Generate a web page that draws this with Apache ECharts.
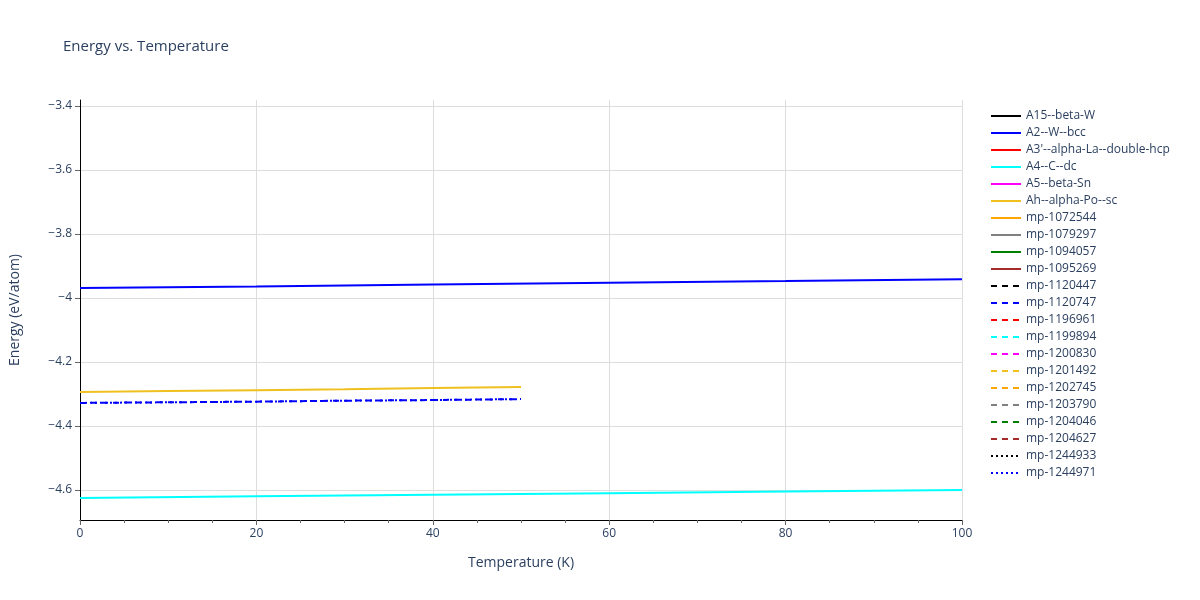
<!DOCTYPE html>
<html>
<head>
<meta charset="utf-8">
<script src="https://cdn.jsdelivr.net/npm/echarts@6/dist/echarts.min.js"></script>
<style>
  html, body { margin: 0; padding: 0; background: #fff; }
  #chart { width: 1200px; height: 600px; }
</style>
</head>
<body>
<div id="chart"></div>
<script>
// data
const temps100 = [0, 20, 40, 60, 80, 100];
const temps50 = [0, 10, 20, 30, 40, 50];
const a2Energy = [-3.969, -3.964, -3.958, -3.952, -3.947, -3.941];
const a4Energy = [-4.625, -4.620, -4.615, -4.610, -4.605, -4.600];
const ahEnergy = [-4.294, -4.291, -4.288, -4.285, -4.281, -4.278];
const mp1120747Energy = [-4.328, -4.326, -4.324, -4.321, -4.319, -4.316];
const yTicks = [-4.6, -4.4, -4.2, -4.0, -3.8, -3.6, -3.4];

const names = [
  "A15--beta-W", "A2--W--bcc", "A3'--alpha-La--double-hcp", "A4--C--dc",
  "A5--beta-Sn", "Ah--alpha-Po--sc", "mp-1072544", "mp-1079297",
  "mp-1094057", "mp-1095269", "mp-1120447", "mp-1120747", "mp-1196961",
  "mp-1199894", "mp-1200830", "mp-1201492", "mp-1202745", "mp-1203790",
  "mp-1204046", "mp-1204627", "mp-1244933", "mp-1244971",
];
const colors = [
  "#000000", "#0000ff", "#ff0000", "#00ffff", "#ff00ff", "#f0c020",
  "#ffa500", "#808080", "#008000", "#a52a2a",
  "#000000", "#0000ff", "#ff0000", "#00ffff", "#ff00ff", "#f0c020",
  "#ffa500", "#808080", "#008000", "#a52a2a",
  "#000000", "#0000ff",
];
const dashes = names.map((n, i) => (i < 10 ? "solid" : i < 20 ? [6, 5] : [2, 3]));

const dataFor = {
  "A2--W--bcc": temps100.map((t, i) => [t, a2Energy[i]]),
  "A4--C--dc": temps100.map((t, i) => [t, a4Energy[i]]),
  "Ah--alpha-Po--sc": temps50.map((t, i) => [t, ahEnergy[i]]),
  "mp-1120747": temps50.map((t, i) => [t, mp1120747Energy[i]]),
  "mp-1244971": temps50.map((t, i) => [t, mp1120747Energy[i]]),
};

const series = names.map((n, i) => ({
  name: n,
  type: "line",
  data: dataFor[n] || [],
  symbol: "none",
  showSymbol: false,
  color: colors[i],
  lineStyle: { width: 2, type: dashes[i], color: colors[i] },
}));

const chart = echarts.init(document.getElementById("chart"));
chart.setOption({
  animation: false,
  textStyle: { fontFamily: "Open Sans, Arial", color: "#2a3f5f" },
  title: {
    text: "Energy vs. Temperature",
    left: 58, top: 34,
    textStyle: { fontSize: 15, fontWeight: "normal", color: "#2a3f5f" },
  },
  grid: { left: 80, right: 238, top: 100, bottom: 80 },
  legend: {
    orient: "vertical",
    left: 985, top: 105,
    itemGap: 5,
    itemWidth: 30, itemHeight: 14,
    itemStyle: { opacity: 0 },
    textStyle: { fontSize: 12, color: "#2a3f5f" },
    data: names,
  },
  xAxis: {
    type: "value", min: 0, max: 100, interval: 20,
    name: "Temperature (K)", nameLocation: "middle", nameGap: 36,
    nameTextStyle: { fontSize: 14, color: "#2a3f5f" },
    axisLine: { show: true, onZero: false, lineStyle: { color: "#000" } },
    axisTick: { show: true, length: 5, lineStyle: { color: "#666" } },
    minorTick: { show: true, splitNumber: 4, length: 3, lineStyle: { color: "#666" } },
    axisLabel: { color: "#2a3f5f", fontSize: 12 },
    splitLine: { show: true, lineStyle: { color: "#ddd" } },
  },
  yAxis: {
    type: "value", min: -4.694, max: -3.381,
    name: "Energy (eV/atom)", nameLocation: "middle", nameGap: 58,
    nameTextStyle: { fontSize: 14, color: "#2a3f5f" },
    axisLine: { show: true, onZero: false, lineStyle: { color: "#000" } },
    axisTick: { show: true, length: 5, customValues: yTicks, lineStyle: { color: "#666" } },
    axisLabel: {
      color: "#2a3f5f", fontSize: 12,
      customValues: yTicks,
      formatter: (v) => String(Math.round(v * 10) / 10).replace("-", "\u2212"),
    },
    splitLine: { show: true, lineStyle: { color: "#ddd" } },
  },
  series: series,
});
</script>
</body>
</html>
